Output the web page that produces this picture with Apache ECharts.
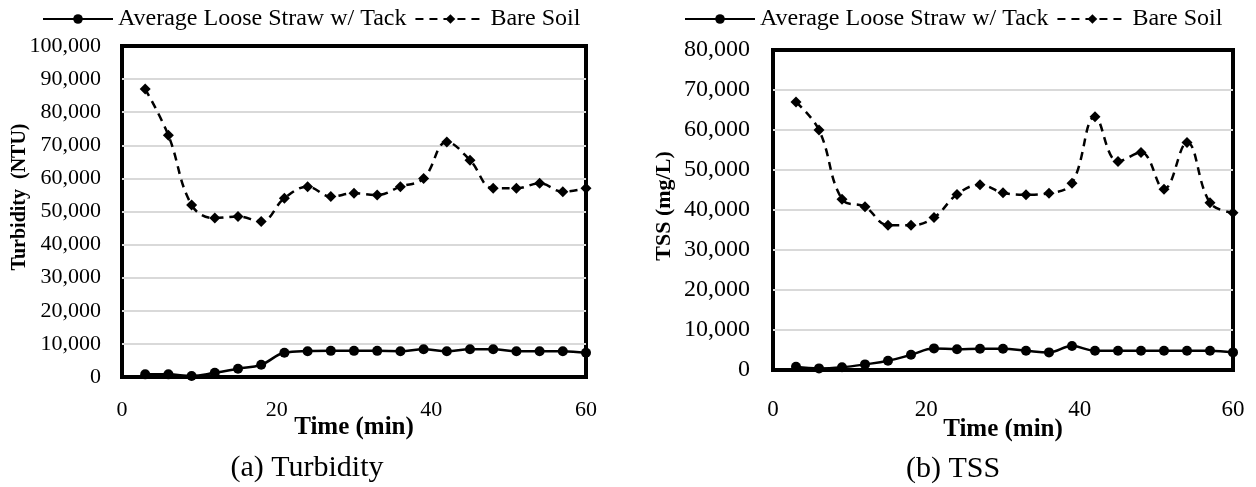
<!DOCTYPE html>
<html>
<head>
<meta charset="utf-8">
<script src="https://cdn.jsdelivr.net/npm/echarts@6/dist/echarts.min.js"></script>
<style>
html,body{margin:0;padding:0;background:#fff;}
#c{width:1256px;height:487px;}
</style>
</head>
<body>
<div id="c"></div>
<script>
// ---- data ----
const times = [3,6,9,12,15,18,21,24,27,30,33,36,39,42,45,48,51,54,57,60];
const seriesNames = ['Average Loose Straw w/ Tack', 'Bare Soil'];
const turbStraw = [800,800,300,1300,2500,3700,7300,7800,7900,7900,7900,7800,8400,7800,8400,8400,7800,7800,7800,7300];
const turbBare  = [87000,73000,52000,48000,48500,47000,54000,57500,54500,55500,55000,57500,60000,71000,65500,57000,57000,58500,56000,57000];
const tssStraw  = [800,400,700,1400,2300,3800,5400,5200,5300,5300,4800,4400,6000,4800,4800,4800,4800,4800,4800,4400];
const tssBare   = [67000,60000,42700,40800,36200,36200,38100,43900,46300,44300,43800,44200,46700,63300,52100,54400,45200,56900,41800,39300];
const xTicks = [0,20,40,60];
const turbTicks = [0,10000,20000,30000,40000,50000,60000,70000,80000,90000,100000];
const tssTicks  = [0,10000,20000,30000,40000,50000,60000,70000,80000];
const captions = ['(a) Turbidity', '(b) TSS'];
const xTitle = 'Time (min)';
const yTitles = ['Turbidity  (NTU)', 'TSS (mg/L)'];

const FONT = 'Liberation Serif, Times New Roman, serif';
const pairs = (xs, ys) => xs.map((x, i) => [x, ys[i]]);
const fmt = v => Number(v).toLocaleString('en-US');

function lineSeries(name, data, idx, dashed) {
  return {
    name: name, type: 'line', xAxisIndex: idx, yAxisIndex: idx,
    data: data, smooth: 0.4,
    symbol: dashed ? 'diamond' : 'circle',
    symbolSize: dashed ? [11, 11] : 10,
    itemStyle: { color: '#000' },
    lineStyle: { color: '#000', width: 2.5, type: dashed ? [8, 6] : 'solid' },
    emphasis: { disabled: true },
    animation: false
  };
}

function xAxisCfg(idx, labelSize, margin, nameGap) {
  return {
    gridIndex: idx, type: 'value',
    min: xTicks[0], max: xTicks[xTicks.length - 1], interval: xTicks[1] - xTicks[0],
    axisLine: { show: false }, axisTick: { show: false }, splitLine: { show: false },
    axisLabel: { fontFamily: FONT, fontSize: labelSize, color: '#000', margin: margin },
    name: xTitle, nameLocation: 'middle', nameGap: nameGap, nameMoveOverlap: false,
    nameTextStyle: { fontFamily: FONT, fontSize: 25, fontWeight: 'bold', color: '#000' }
  };
}

function yAxisCfg(idx, ticks, labelSize, margin) {
  return {
    gridIndex: idx, type: 'value',
    min: ticks[0], max: ticks[ticks.length - 1], interval: ticks[1] - ticks[0],
    axisLine: { show: false }, axisTick: { show: false },
    splitLine: { show: true, showMinLine: false, showMaxLine: false, lineStyle: { color: '#d9d9d9', width: 2 } },
    axisLabel: { fontFamily: FONT, fontSize: labelSize, color: '#000', margin: margin, formatter: fmt }
  };
}

function legendCfg(left) {
  return {
    left: left, top: 7, padding: 0, itemGap: 8, itemWidth: 70, itemHeight: 12,
    selectedMode: false,
    textStyle: { fontFamily: FONT, fontSize: 24, color: '#000' },
    data: seriesNames
  };
}

const chart = echarts.init(document.getElementById('c'), null, { renderer: 'canvas' });
chart.setOption({
  backgroundColor: '#fff',
  animation: false,
  legend: [legendCfg(42), legendCfg(684)],
  grid: [
    { left: 122, top: 46, width: 464, height: 331, show: true, borderColor: '#000', borderWidth: 4, backgroundColor: 'transparent' },
    { left: 773, top: 50, width: 460, height: 320, show: true, borderColor: '#000', borderWidth: 4, backgroundColor: 'transparent' }
  ],
  xAxis: [xAxisCfg(0, 22, 22, 38), xAxisCfg(1, 23, 28, 47)],
  yAxis: [yAxisCfg(0, turbTicks, 22, 21), yAxisCfg(1, tssTicks, 24, 23)],
  series: [
    lineSeries(seriesNames[0], pairs(times, turbStraw), 0, false),
    lineSeries(seriesNames[1], pairs(times, turbBare), 0, true),
    lineSeries(seriesNames[0], pairs(times, tssStraw), 1, false),
    lineSeries(seriesNames[1], pairs(times, tssBare), 1, true)
  ],
  graphic: [
    { type: 'text', x: 20, y: 197, rotation: Math.PI / 2,
      style: { text: yTitles[0], font: 'bold 20px ' + FONT, fill: '#000', align: 'center', verticalAlign: 'middle' } },
    { type: 'text', x: 664, y: 206, rotation: Math.PI / 2,
      style: { text: yTitles[1], font: 'bold 22px ' + FONT, fill: '#000', align: 'center', verticalAlign: 'middle' } },
    { type: 'text', x: 307, y: 468,
      style: { text: captions[0], font: '30px ' + FONT, fill: '#000', align: 'center', verticalAlign: 'middle' } },
    { type: 'text', x: 953, y: 469,
      style: { text: captions[1], font: '30px ' + FONT, fill: '#000', align: 'center', verticalAlign: 'middle' } }
  ]
});
</script>
</body>
</html>
